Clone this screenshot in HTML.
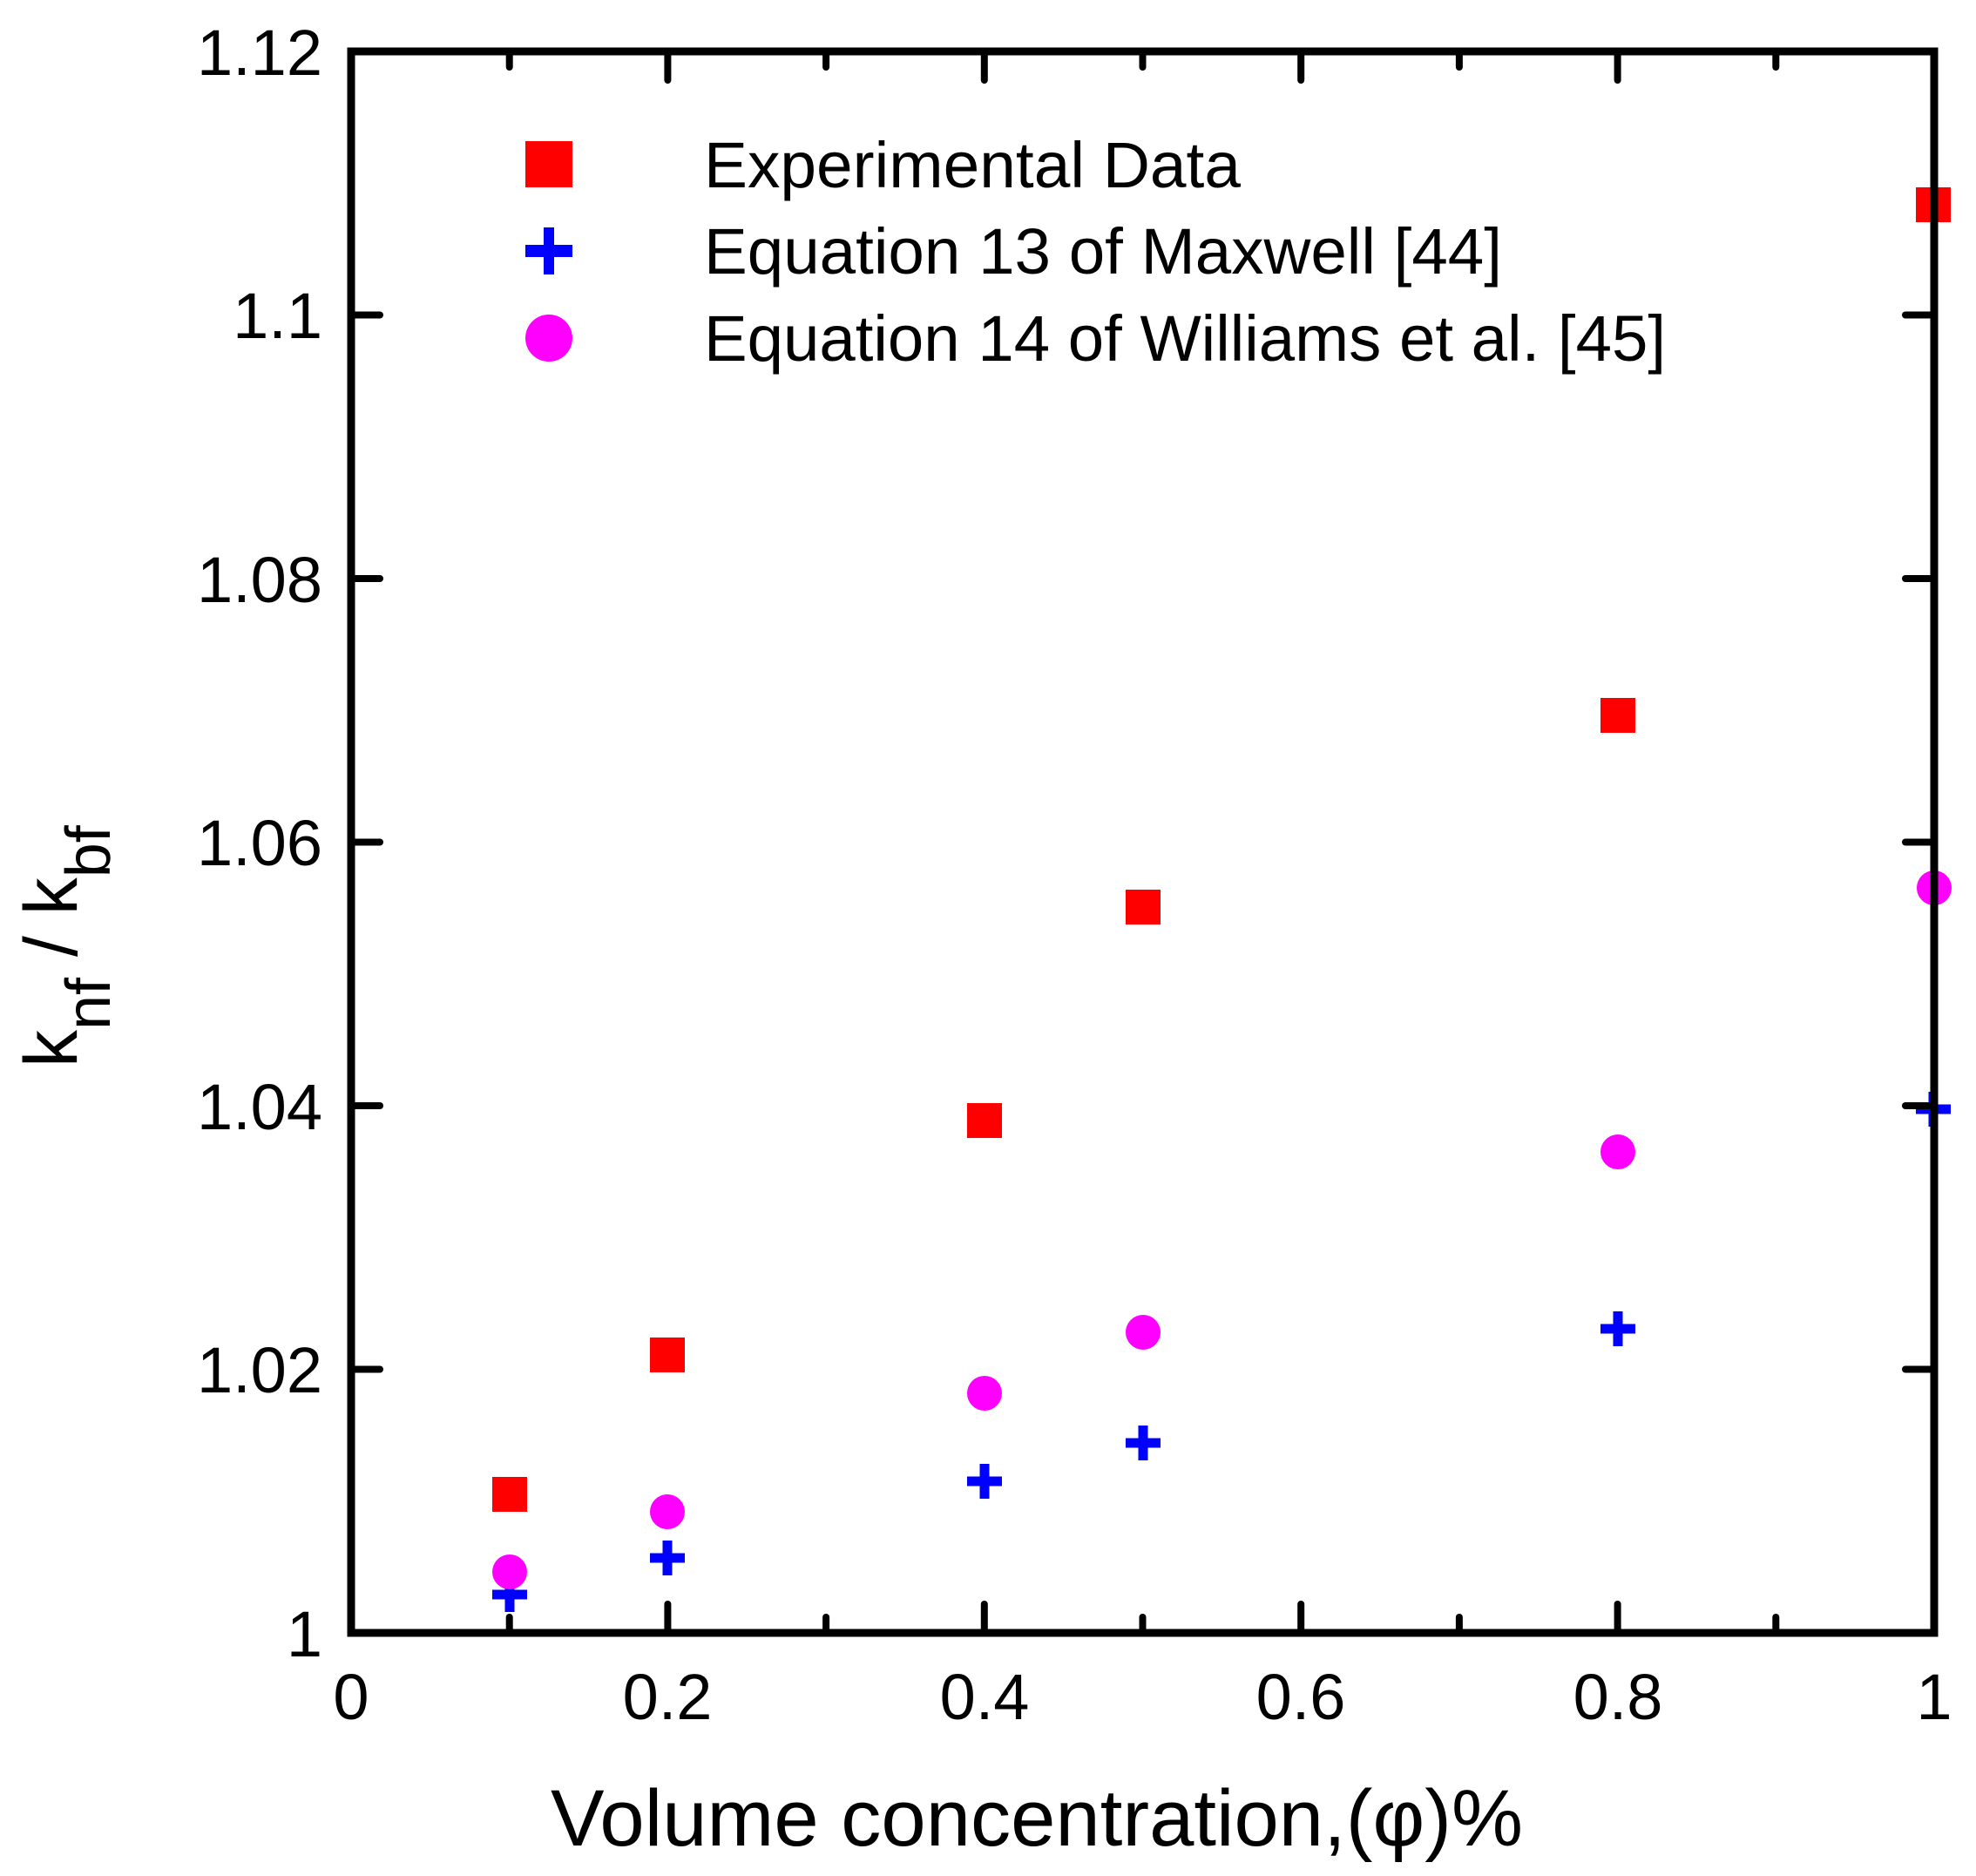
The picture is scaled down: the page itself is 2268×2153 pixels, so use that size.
<!DOCTYPE html>
<html><head><meta charset="utf-8"><style>html,body{margin:0;padding:0;background:#fff}svg{display:block}</style></head>
<body>
<svg width="2268" height="2153" viewBox="0 0 2268 2153" xmlns="http://www.w3.org/2000/svg" font-family="Liberation Sans, Arial, sans-serif">
<rect width="2268" height="2153" fill="#fff"/>
<g fill="#ff0000">
<rect x="565" y="1695" width="40" height="40"/>
<rect x="746" y="1535" width="40" height="40"/>
<rect x="1110" y="1266" width="40" height="40"/>
<rect x="1292" y="1021" width="40" height="40"/>
<rect x="1837" y="801" width="40" height="40"/>
<rect x="2199" y="215" width="40" height="40"/>
<rect x="603" y="162" width="54" height="53"/>
</g>
<g fill="#0000ff">
<g transform="translate(585,1830)"><rect x="-20" y="-5.5" width="40" height="11"/><rect x="-5.5" y="-20" width="11" height="40"/></g>
<g transform="translate(766,1788)"><rect x="-20" y="-5.5" width="40" height="11"/><rect x="-5.5" y="-20" width="11" height="40"/></g>
<g transform="translate(1130,1700)"><rect x="-20" y="-5.5" width="40" height="11"/><rect x="-5.5" y="-20" width="11" height="40"/></g>
<g transform="translate(1312,1656)"><rect x="-20" y="-5.5" width="40" height="11"/><rect x="-5.5" y="-20" width="11" height="40"/></g>
<g transform="translate(1857,1525)"><rect x="-20" y="-5.5" width="40" height="11"/><rect x="-5.5" y="-20" width="11" height="40"/></g>
<g transform="translate(2219,1273)"><rect x="-20" y="-5.5" width="40" height="11"/><rect x="-5.5" y="-20" width="11" height="40"/></g>
<g transform="translate(630,288)"><rect x="-27" y="-7" width="54" height="14"/><rect x="-6" y="-27" width="12" height="54"/></g>
</g>
<g fill="#ff00ff">
<circle cx="585" cy="1804" r="20"/>
<circle cx="766" cy="1735" r="20"/>
<circle cx="1130" cy="1599" r="20"/>
<circle cx="1312" cy="1529" r="20"/>
<circle cx="1857" cy="1322" r="20"/>
<circle cx="2220" cy="1019" r="20"/>
<ellipse cx="630" cy="388" rx="27" ry="27"/>
</g>
<g font-size="74" fill="#000">
<text x="808" y="215" textLength="616" lengthAdjust="spacingAndGlyphs">Experimental Data</text>
<text x="808" y="314" textLength="916" lengthAdjust="spacingAndGlyphs">Equation 13 of Maxwell [44]</text>
<text x="808" y="414" textLength="1104" lengthAdjust="spacingAndGlyphs">Equation 14 of Williams et al. [45]</text>
</g>
<g stroke="#000" stroke-width="8" stroke-linecap="round">
<line x1="584.7" y1="1870" x2="584.7" y2="1856"/><line x1="584.7" y1="63" x2="584.7" y2="77"/>
<line x1="766.4" y1="1870" x2="766.4" y2="1841"/><line x1="766.4" y1="63" x2="766.4" y2="92"/>
<line x1="948.1" y1="1870" x2="948.1" y2="1856"/><line x1="948.1" y1="63" x2="948.1" y2="77"/>
<line x1="1129.8" y1="1870" x2="1129.8" y2="1841"/><line x1="1129.8" y1="63" x2="1129.8" y2="92"/>
<line x1="1311.5" y1="1870" x2="1311.5" y2="1856"/><line x1="1311.5" y1="63" x2="1311.5" y2="77"/>
<line x1="1493.2" y1="1870" x2="1493.2" y2="1841"/><line x1="1493.2" y1="63" x2="1493.2" y2="92"/>
<line x1="1674.9" y1="1870" x2="1674.9" y2="1856"/><line x1="1674.9" y1="63" x2="1674.9" y2="77"/>
<line x1="1856.6" y1="1870" x2="1856.6" y2="1841"/><line x1="1856.6" y1="63" x2="1856.6" y2="92"/>
<line x1="2038.3" y1="1870" x2="2038.3" y2="1856"/><line x1="2038.3" y1="63" x2="2038.3" y2="77"/>
<line x1="407" y1="1571.5" x2="436" y2="1571.5"/><line x1="2216" y1="1571.5" x2="2187" y2="1571.5"/>
<line x1="407" y1="1269" x2="436" y2="1269"/><line x1="2216" y1="1269" x2="2187" y2="1269"/>
<line x1="407" y1="966.5" x2="436" y2="966.5"/><line x1="2216" y1="966.5" x2="2187" y2="966.5"/>
<line x1="407" y1="664" x2="436" y2="664"/><line x1="2216" y1="664" x2="2187" y2="664"/>
<line x1="407" y1="361.5" x2="436" y2="361.5"/><line x1="2216" y1="361.5" x2="2187" y2="361.5"/>
</g>
<rect x="403" y="59" width="1817" height="1815" fill="none" stroke="#000" stroke-width="9"/>
<g font-size="74" fill="#000" text-anchor="end">
<text x="370" y="1901">1</text>
<text x="370" y="1598">1.02</text>
<text x="370" y="1296">1.04</text>
<text x="370" y="993">1.06</text>
<text x="370" y="691">1.08</text>
<text x="370" y="388">1.1</text>
<text x="370" y="86">1.12</text>
</g>
<g font-size="74" fill="#000" text-anchor="middle">
<text x="403" y="1973">0</text>
<text x="766" y="1973">0.2</text>
<text x="1130" y="1973">0.4</text>
<text x="1493" y="1973">0.6</text>
<text x="1857" y="1973">0.8</text>
<text x="2220" y="1973">1</text>
</g>
<text x="632" y="2118" font-size="92" textLength="1116" lengthAdjust="spacingAndGlyphs">Volume concentration,(φ)%</text>
<text transform="translate(88,1225) rotate(-90)" font-size="86">k<tspan font-size="72" dy="38">nf</tspan><tspan dy="-38"> / k</tspan><tspan font-size="72" dy="38">bf</tspan></text>
</svg>
</body></html>
